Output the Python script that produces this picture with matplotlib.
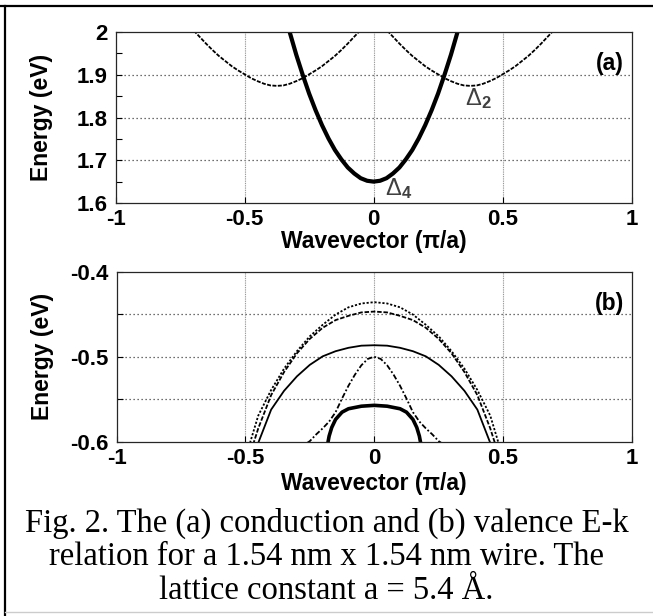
import matplotlib
matplotlib.use("Agg")
import matplotlib.pyplot as plt
from matplotlib.lines import Line2D
from matplotlib.ticker import MultipleLocator

plt.rcParams['axes.unicode_minus'] = False
plt.rcParams['font.family'] = ['Liberation Sans', 'DejaVu Sans']
plt.rcParams['mathtext.fontset'] = 'custom'
plt.rcParams['mathtext.rm'] = 'Liberation Sans'
plt.rcParams['mathtext.bf'] = 'Liberation Sans:bold'
plt.rcParams['mathtext.it'] = 'Liberation Sans:italic'

# ---------------- data: panel (a) conduction band ----------------
d4_k = [-0.35, -0.325, -0.30, -0.275, -0.25, -0.225, -0.20, -0.175, -0.15, -0.125, -0.10, -0.075, -0.05, -0.025,
        0.0, 0.025, 0.05, 0.075, 0.10, 0.125, 0.15, 0.175, 0.20, 0.225, 0.25, 0.275, 0.30, 0.325, 0.35]
d4_E = [2.054, 1.999, 1.947, 1.900, 1.856, 1.817, 1.782, 1.751, 1.724, 1.702, 1.683, 1.669, 1.658, 1.652,
        1.650, 1.652, 1.658, 1.669, 1.683, 1.702, 1.724, 1.751, 1.782, 1.817, 1.856, 1.900, 1.947, 1.999, 2.054]

d2r_k = [0.025, 0.05, 0.075, 0.10, 0.125, 0.15, 0.175, 0.20, 0.225, 0.25, 0.275, 0.30, 0.325, 0.35, 0.375,
         0.40, 0.425, 0.45, 0.475, 0.50, 0.525, 0.55, 0.575, 0.60, 0.625, 0.65, 0.675, 0.70, 0.725]
d2r_E = [2.022, 2.005, 1.989, 1.973, 1.958, 1.944, 1.932, 1.920, 1.910, 1.901, 1.892, 1.885, 1.879, 1.875, 1.874,
         1.875, 1.879, 1.885, 1.892, 1.901, 1.910, 1.920, 1.932, 1.944, 1.958, 1.973, 1.989, 2.005, 2.022]
d2l_k = [-0.725, -0.70, -0.675, -0.65, -0.625, -0.60, -0.575, -0.55, -0.525, -0.50, -0.475, -0.45, -0.425, -0.40, -0.375,
         -0.35, -0.325, -0.30, -0.275, -0.25, -0.225, -0.20, -0.175, -0.15, -0.125, -0.10, -0.075, -0.05, -0.025]
d2l_E = [2.022, 2.005, 1.989, 1.973, 1.958, 1.944, 1.932, 1.920, 1.910, 1.901, 1.892, 1.885, 1.879, 1.875, 1.874,
         1.875, 1.879, 1.885, 1.892, 1.901, 1.910, 1.920, 1.932, 1.944, 1.958, 1.973, 1.989, 2.005, 2.022]

# ---------------- data: panel (b) valence bands ----------------
v1_k = [-0.49, -0.48, -0.45, -0.40, -0.35, -0.30, -0.25, -0.20, -0.15, -0.10, -0.05, 0.0,
        0.05, 0.10, 0.15, 0.20, 0.25, 0.30, 0.35, 0.40, 0.45, 0.48, 0.49]
v1_E = [-0.610, -0.599, -0.569, -0.539, -0.514, -0.4935, -0.476, -0.4625, -0.4505, -0.442, -0.4375, -0.436,
        -0.4375, -0.442, -0.4505, -0.4625, -0.476, -0.4935, -0.514, -0.539, -0.569, -0.599, -0.610]

v2_k = [-0.47, -0.45, -0.40, -0.35, -0.30, -0.25, -0.20, -0.15, -0.10, -0.05, 0.0,
        0.05, 0.10, 0.15, 0.20, 0.25, 0.30, 0.35, 0.40, 0.45, 0.47]
v2_E = [-0.603, -0.584, -0.545, -0.518, -0.496, -0.479, -0.466, -0.457, -0.452, -0.448, -0.447,
        -0.448, -0.452, -0.457, -0.466, -0.479, -0.496, -0.518, -0.545, -0.584, -0.603]

v3_k = [-0.45, -0.40, -0.35, -0.30, -0.25, -0.20, -0.15, -0.10, -0.05, 0.0,
        0.05, 0.10, 0.15, 0.20, 0.25, 0.30, 0.35, 0.40, 0.45]
v3_E = [-0.601, -0.562, -0.540, -0.523, -0.5095, -0.4995, -0.4935, -0.4895, -0.487, -0.4865,
        -0.487, -0.4895, -0.4935, -0.4995, -0.5095, -0.523, -0.540, -0.562, -0.601]

v4_k = [-0.26, -0.25, -0.225, -0.20, -0.175, -0.15, -0.125, -0.10, -0.075, -0.05, -0.025, 0.0,
        0.025, 0.05, 0.075, 0.10, 0.125, 0.15, 0.175, 0.20, 0.225, 0.25, 0.26]
v4_E = [-0.601, -0.599, -0.591, -0.584, -0.576, -0.565, -0.549, -0.534, -0.521, -0.510, -0.5025, -0.500,
        -0.5025, -0.510, -0.521, -0.534, -0.549, -0.565, -0.576, -0.584, -0.591, -0.599, -0.601]

v5_k = [-0.18, -0.175, -0.165, -0.15, -0.125, -0.10, -0.05, 0.0, 0.05, 0.10, 0.125, 0.15, 0.165, 0.175, 0.18]
v5_E = [-0.601, -0.593, -0.583, -0.5735, -0.565, -0.561, -0.558, -0.557, -0.558, -0.561, -0.565, -0.5735, -0.583, -0.593, -0.601]

xticks = [-1, -0.5, 0, 0.5, 1]
xtick_labels = ['-1', '-0.5', '0', '0.5', '1']
a_yticks = [1.6, 1.7, 1.8, 1.9, 2.0]
a_ytick_labels = ['1.6', '1.7', '1.8', '1.9', '2']
b_yticks = [-0.6, -0.55, -0.5, -0.45, -0.4]
b_ytick_labels = ['-0.6', '', '-0.5', '', '-0.4']

caption = ["Fig. 2. The (a) conduction and (b) valence E-k",
           "relation for a 1.54 nm x 1.54 nm wire. The",
           "lattice constant a = 5.4 \u00c5."]

W, H = 653, 616
fig = plt.figure(figsize=(W / 100, H / 100), dpi=100)

def px_axes(x0, x1, ytop, ybot):
    return fig.add_axes([x0 / W, 1 - ybot / H, (x1 - x0) / W, (ybot - ytop) / H])

axa = px_axes(115.7, 631.5, 32, 203)
axb = px_axes(116.5, 632, 271.5, 442)

FS = 16
LFS = 16.5

def style(ax, xlab_y):
    for s in ax.spines.values():
        s.set_linewidth(0.9)
        s.set_color('0.15')
    ax.tick_params(direction='in', length=4, width=0.8, labelsize=FS, pad=4,
                   top=False, right=False)
    ax.tick_params(axis='y', pad=6)
    for lab in ax.get_xticklabels() + ax.get_yticklabels():
        lab.set_fontweight('bold')
    ax.set_xlim(-1, 1)
    ax.set_xlabel('Wavevector (\u03c0/a)', fontsize=LFS, fontweight='bold')
    ax.set_ylabel('Energy (eV)', fontsize=LFS, fontweight='bold')
    ax.xaxis.set_label_coords(0.5, xlab_y)
    ax.yaxis.set_label_coords(-0.122, 0.5)

# ---- panel (a) ----
axa.plot(d2l_k, d2l_E, color='black', lw=1.3, ls=(0, (2.2, 0.8)))
axa.plot(d2r_k, d2r_E, color='black', lw=1.3, ls=(0, (2.2, 0.8)))
axa.plot(d4_k, d4_E, color='black', lw=3.0, solid_capstyle='round')
axa.set_ylim(1.6, 2.0)
axa.set_xticks(xticks)
axa.set_xticklabels(xtick_labels)
axa.set_yticks(a_yticks)
axa.set_yticklabels(a_ytick_labels)
axa.yaxis.set_minor_locator(MultipleLocator(0.05))
axa.tick_params(which='minor', direction='in', length=4, width=0.8, right=False)
for y in a_yticks[1:-1]:
    axa.axhline(y, color='0.25', lw=0.9, ls=(0, (1, 2.2)), zorder=0)
for x in xticks[1:-1]:
    axa.axvline(x, color='0.55', lw=0.8, ls=(0, (0.8, 0.8)), zorder=0)
style(axa, -0.158)
axa.text(0.969, 1.927, '(a)', fontsize=LFS, fontweight='bold', ha='right', va='center')
axa.text(0.356, 1.829, r'$\Delta_{\mathbf{2}}$', fontsize=17, color='0.25', ha='left', va='baseline')
axa.text(0.045, 1.619, r'$\Delta_{\mathbf{4}}$', fontsize=17, color='0.25', ha='left', va='baseline')

# ---- panel (b) ----
axb.plot(v1_k, v1_E, color='black', lw=1.3, ls=(0, (1.2, 1.0)))
axb.plot(v2_k, v2_E, color='black', lw=1.3, ls=(0, (2.5, 1.0)))
axb.plot(v3_k, v3_E, color='black', lw=1.3, ls='-')
axb.plot(v4_k, v4_E, color='black', lw=1.3, ls=(0, (3, 1.2, 1, 1.2)))
axb.plot(v5_k, v5_E, color='black', lw=2.6, ls='-')
axb.set_ylim(-0.6, -0.4)
axb.set_xticks(xticks)
axb.set_xticklabels(xtick_labels)
axb.set_yticks(b_yticks)
axb.set_yticklabels(b_ytick_labels)
for y in b_yticks[1:-1]:
    axb.axhline(y, color='0.25', lw=0.9, ls=(0, (1, 2.2)), zorder=0)
for x in xticks[1:-1]:
    axb.axvline(x, color='0.55', lw=0.8, ls=(0, (0.8, 0.8)), zorder=0)
style(axb, -0.176)
axb.text(0.969, -0.438, '(b)', fontsize=LFS, fontweight='bold', ha='right', va='center')

# ---- caption ----
for i, line in enumerate(caption):
    fig.text(0.5, 1 - (523 + 34 * i) / H, line, ha='center', va='center',
             fontsize=23.5, family=['Liberation Serif', 'DejaVu Serif'])

# ---- figure frame ----
fig.add_artist(Line2D([0, 1], [1 - 6 / H, 1 - 6 / H], transform=fig.transFigure, color='black', lw=1.6))
fig.add_artist(Line2D([5 / W, 5 / W], [0, 1 - 6 / H], transform=fig.transFigure, color='black', lw=1.6))
fig.add_artist(Line2D([5 / W, 1], [4 / H, 4 / H], transform=fig.transFigure, color='0.8', lw=1.0))

fig.savefig('out.png', dpi=100)
